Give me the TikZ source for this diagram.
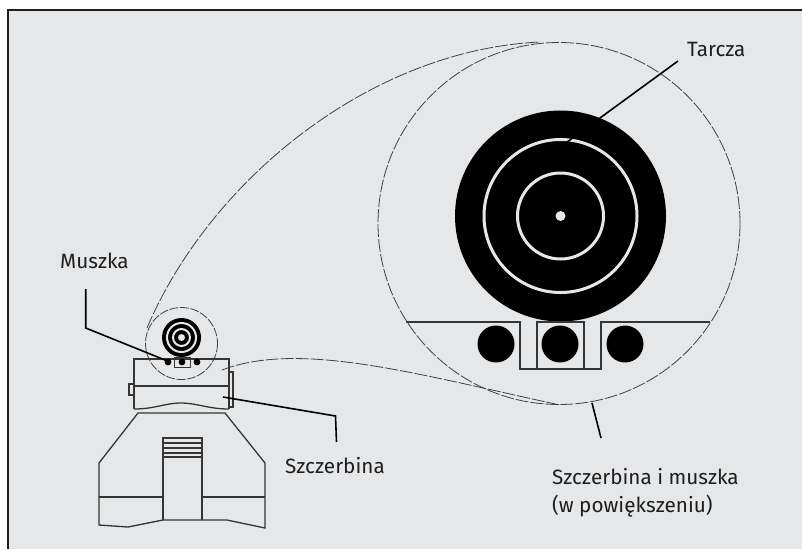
\documentclass[tikz,border=0pt]{standalone}
\usepackage{xcolor}
\usepackage{fontspec}
\setmainfont{Fira Sans}
\usepackage{tikz}
\definecolor{panelgray}{HTML}{E6E7E9}
\definecolor{inkdark}{HTML}{1E1E1E}
\tikzset{
    label text/.style={inner sep=0pt, anchor=base west, align=left, text=inkdark, font=\fontsize{20.7}{28}\selectfont},
    leader/.style={draw=black, line width=1.6pt},
    sketch/.style={draw=inkdark!90, line width=1.3pt},
    zoom dash/.style={draw=inkdark!85, line width=0.8pt, dash pattern=on 13pt off 2pt},
}

\begin{document}
\begin{tikzpicture}[x=1pt, y=-1pt]
    \useasboundingbox (0,0) rectangle (802,549);
    \fill[white] (0,0) rectangle (802,549);
    \fill[panelgray] (8,10) rectangle (802,549);
    \draw[inkdark, line width=1.5pt] (8,549) -- (8,10) -- (802,10);

    % enlarged view
    \fill[black] (560.5,216) circle (105.5);
    \draw[panelgray, line width=3pt] (560.5,216) circle (76.5);
    \draw[panelgray, line width=3pt] (560.5,216) circle (43);
    \fill[panelgray] (560.5,216) circle (5);
    \draw[sketch] (406,322) -- (520,322) -- (520,369) -- (601,369) -- (601,322) -- (710,322);
    \draw[sketch] (537,369) -- (537,322) -- (584,322) -- (584,369);
    \foreach \x in {496,560,625}
        \fill[black] (\x,344) circle (18.5);
    \draw[zoom dash] (559,223.5) circle (181);
    \draw[zoom dash] (147,328) .. controls (210,180) and (370,50) .. (540,42);
    \draw[zoom dash] (222,370) .. controls (300,340) and (420,375) .. (560,405);

    % rear sight body
    \draw[sketch] (138,413) -- (99,463) -- (99,525) -- (128,527) -- (163,520) -- (202,520) -- (227,520) -- (265,528) -- (265,463) -- (225,413) -- cycle;
    \draw[sketch] (134,409) -- (134,359) -- (229,359) -- (229,409);
    \draw[sketch] (134,409) .. controls (155,409) and (165,403) .. (181,403) .. controls (197,403) and (208,409) .. (229,409);
    \draw[sketch] (134,386) -- (229,386);
    \draw[sketch] (134,384) -- (129,384) -- (129,395) -- (134,395);
    \draw[sketch] (229,372) -- (233,372) -- (233,407) -- (229,407);
    \draw[sketch] (163,520) -- (163,438) -- (202,438) -- (202,520);
    \foreach \y in {443,448,453,457}
        \draw[sketch] (163,\y) -- (202,\y);
    \draw[sketch] (99,497) -- (163,497);
    \draw[sketch] (202,497) -- (265,497);

    % small target
    \fill[black] (181.5,337.5) circle (19.5);
    \draw[panelgray, line width=2pt] (181.5,337.5) circle (14.5);
    \draw[panelgray, line width=2pt] (181.5,337.5) circle (8.5);
    \fill[panelgray] (181.5,337.5) circle (3.5);
    \foreach \x in {168,182,197}
        \fill[black] (\x,362) circle (3.4);
    \draw[sketch, line width=1pt] (174,357) rectangle (190,367);
    \draw[zoom dash, dash pattern=on 9pt off 1.5pt] (181.5,343.5) circle (36);

    % labels
    \node[label text] (tarcza) at (687,56) {Tarcza};
    \node[label text] (muszka) at (60,268) {Muszka};
    \node[label text] (szczerbina) at (285,473) {Szczerbina};
    \node[label text] (powiekszenie) at (552,512) {Szczerbina i muszka\\(w powiększeniu)};

    % leaders
    \coordinate (tarczastart) at (678,61);
    \coordinate (tarczaend) at (563,145);
    \coordinate (muszkastart) at (85.7,289);
    \coordinate (muszkabend) at (85.7,328);
    \coordinate (muszkaend) at (170,362);
    \coordinate (szczstart) at (336.5,442);
    \coordinate (szczbend) at (335.5,416);
    \coordinate (szczend) at (223,397);
    \coordinate (powstart) at (601,438);
    \coordinate (powend) at (592,403);
    \draw[leader] (tarczastart) -- (tarczaend);
    \draw[leader] (muszkastart) -- (muszkabend) -- (muszkaend);
    \draw[leader] (szczstart) -- (szczbend) -- (szczend);
    \draw[leader] (powstart) -- (powend);
\end{tikzpicture}
\end{document}
